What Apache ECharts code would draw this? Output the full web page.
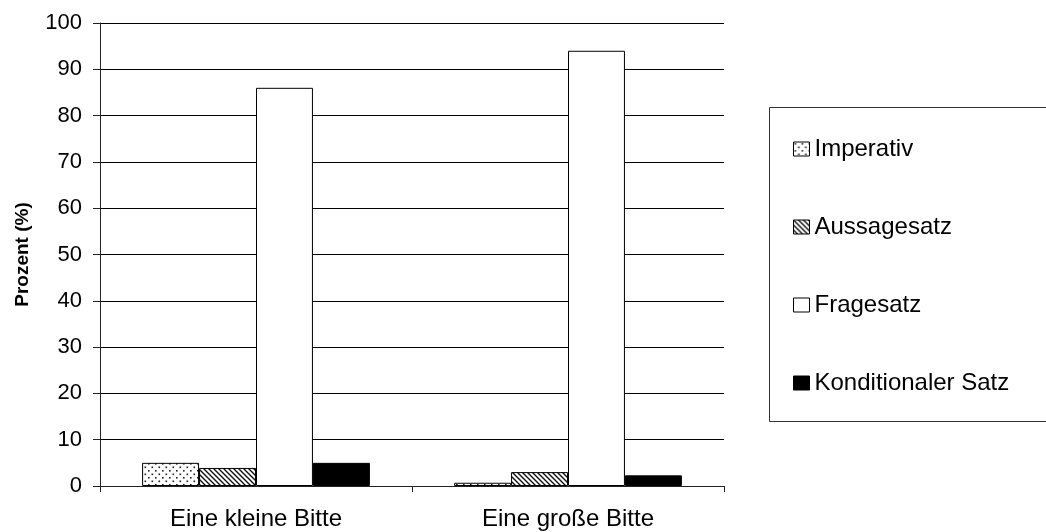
<!DOCTYPE html>
<html>
<head>
<meta charset="utf-8">
<script src="https://cdn.jsdelivr.net/npm/echarts@6/dist/echarts.min.js"></script>
<style>
  html, body { margin: 0; padding: 0; background: #fff; }
  #chart { width: 1046px; height: 532px; }
</style>
</head>
<body>
<div id="chart"></div>
<script>
// Kategorien und Anteile (%) je Satztyp
const categories = ['Eine kleine Bitte', 'Eine große Bitte'];
const imperativ = [5, 0.7];
const aussagesatz = [3.9, 3];
const fragesatz = [86, 94];
const konditional = [5, 2.3];
const yTicks = { min: 0, max: 100, interval: 10 };
const yTitle = 'Prozent (%)';

const FONT = '"Liberation Sans", Arial, sans-serif';

// Kachelmuster für die Schraffuren
function dotPattern() {
  const c = document.createElement('canvas');
  c.width = 7; c.height = 7;
  const g = c.getContext('2d');
  g.fillStyle = '#fff';
  g.fillRect(0, 0, 7, 7);
  g.fillStyle = '#222';
  g.fillRect(1, 1, 1.6, 1.6);
  g.fillRect(4.5, 4.5, 1.6, 1.6);
  return { image: c, repeat: 'repeat' };
}
function stripePattern() {
  const s = 5;
  const c = document.createElement('canvas');
  c.width = s; c.height = s;
  const g = c.getContext('2d');
  g.fillStyle = '#fff';
  g.fillRect(0, 0, s, s);
  g.strokeStyle = '#111';
  g.lineWidth = 1.4;
  g.beginPath();
  g.moveTo(-1, -1); g.lineTo(s + 1, s + 1);
  g.moveTo(-1, s - 1); g.lineTo(1, s + 1);
  g.moveTo(s - 1, -1); g.lineTo(s + 1, 1);
  g.stroke();
  return { image: c, repeat: 'repeat' };
}

function bar(name, data, color) {
  return {
    name: name,
    type: 'bar',
    data: data,
    barGap: '0%',
    barCategoryGap: '27%',
    itemStyle: { color: color, borderColor: '#000', borderWidth: 1 },
    emphasis: { disabled: true },
    animation: false
  };
}

const chart = echarts.init(document.getElementById('chart'), null, { renderer: 'canvas' });
chart.setOption({
  animation: false,
  backgroundColor: '#fff',
  textStyle: { fontFamily: FONT, color: '#000' },
  grid: { left: 100, right: 322, top: 23, bottom: 46, outerBoundsMode: 'none' },
  legend: {
    orient: 'vertical',
    left: 793,
    top: 137,
    padding: 0,
    itemWidth: 16,
    itemHeight: 14,
    itemGap: 54,
    icon: 'rect',
    selectedMode: false,
    itemStyle: { borderColor: '#000', borderWidth: 1 },
    textStyle: { fontFamily: FONT, fontSize: 24, color: '#000', lineHeight: 24 },
    data: ['Imperativ', 'Aussagesatz', 'Fragesatz', 'Konditionaler Satz']
  },
  graphic: [{
    type: 'rect',
    shape: { x: 769.5, y: 107.5, width: 300, height: 314 },
    style: { fill: 'none', stroke: '#333', lineWidth: 1 },
    z: 0
  }],
  xAxis: {
    type: 'category',
    data: categories,
    boundaryGap: true,
    axisLine: { lineStyle: { color: '#222', width: 1 } },
    axisTick: { show: true, length: 6, interval: 0, lineStyle: { color: '#222' } },
    axisLabel: { fontFamily: FONT, fontSize: 24, color: '#000', margin: 21, interval: 0 },
    splitLine: { show: false }
  },
  yAxis: {
    type: 'value',
    min: yTicks.min,
    max: yTicks.max,
    interval: yTicks.interval,
    name: yTitle,
    nameLocation: 'middle',
    nameGap: 68,
    nameRotate: 90,
    nameTextStyle: { fontFamily: FONT, fontSize: 19, fontWeight: 'bold', color: '#000' },
    axisLine: { show: true, lineStyle: { color: '#222', width: 1 } },
    axisTick: { show: true, inside: false, length: 7, lineStyle: { color: '#222' } },
    axisLabel: { fontFamily: FONT, fontSize: 22, color: '#000', margin: 18 },
    splitLine: { show: true, lineStyle: { color: '#000', width: 1 } }
  },
  series: [
    bar('Imperativ', imperativ, dotPattern()),
    bar('Aussagesatz', aussagesatz, stripePattern()),
    bar('Fragesatz', fragesatz, '#fff'),
    bar('Konditionaler Satz', konditional, '#000')
  ]
});
</script>
</body>
</html>
